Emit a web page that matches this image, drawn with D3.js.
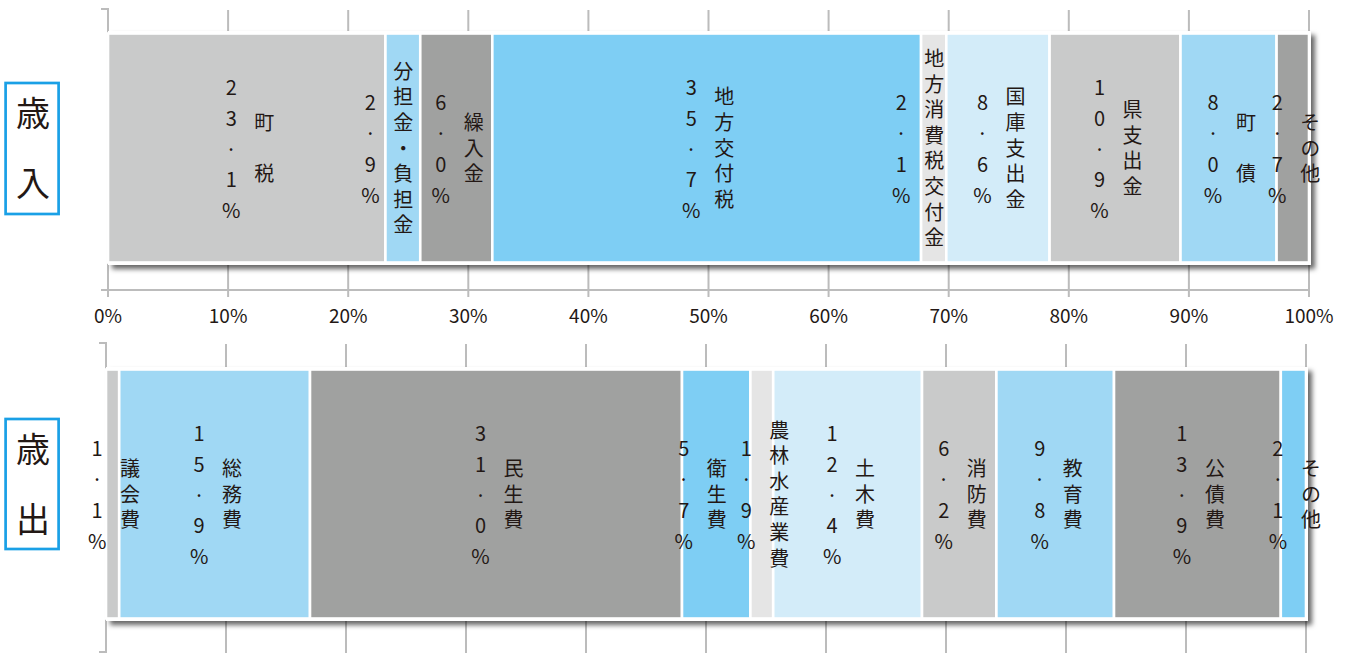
<!DOCTYPE html>
<html><head><meta charset="utf-8">
<script src="https://cdn.jsdelivr.net/npm/d3@7"></script>
<style>
html,body{margin:0;padding:0;background:#fff;}
svg{display:block;font-family:"Noto Sans CJK JP","Noto Sans",sans-serif;}
text.vt{writing-mode:vertical-rl;text-orientation:upright;}
</style></head>
<body>
<svg id="chart" width="1350" height="653"></svg>
<script>
// ---- data ----
const incomeCategories = ["町　税","分担金・負担金","繰入金","地方交付税","地方消費税交付金","国庫支出金","県支出金","町　債","その他"];
const incomeValues = [23.1, 2.9, 6.0, 35.7, 2.1, 8.6, 10.9, 8.0, 2.7];
const expenseCategories = ["議会費","総務費","民生費","衛生費","農林水産業費","土木費","消防費","教育費","公債費","その他"];
const expenseValues = [1.1, 15.9, 31.0, 5.7, 1.9, 12.4, 6.2, 9.8, 13.9, 2.1];
const tickValues = [0,10,20,30,40,50,60,70,80,90,100];
const tickLabels = ["0%","10%","20%","30%","40%","50%","60%","70%","80%","90%","100%"];

// ---- style ----
const palette = ["#c9caca","#a0d8f4","#a0a1a0","#7ecef4","#e5e5e5","#d3ecf9"];
const textColor = "#231815";
const gridColor = "#bcbcbc";
const nameCentered = new Set(["分担金・負担金","地方消費税交付金","衛生費"]);

const svg = d3.select("#chart");
const defs = svg.append("defs");
const f = defs.append("filter").attr("id","shadow").attr("x","-5%").attr("y","-20%").attr("width","110%").attr("height","150%");
f.append("feDropShadow").attr("dx",4).attr("dy",4).attr("stdDeviation",2.8)
  .attr("flood-color","#000").attr("flood-opacity",0.6);

const charts = [
  {title:"歳入", cats:incomeCategories, vals:incomeValues, x0:108, x1:1309,
   bandTop:9, bandBottom:290, barTop:31, barBottom:265, axis:true, boxTop:83, boxBottom:214},
  {title:"歳出", cats:expenseCategories, vals:expenseValues, x0:106, x1:1306,
   bandTop:343, bandBottom:652, barTop:367, barBottom:621, axis:false, boxTop:419, boxBottom:549}
];

// vertical (upright) text: one text element per label
function verticalText(g, str, cx, cy, spacing, size){
  const ls = spacing - size;
  return g.append("text").attr("class","vt")
    .attr("x",cx).attr("y",cy + ls/2)
    .attr("text-anchor","middle")
    .attr("font-size",size).attr("fill",textColor)
    .style("letter-spacing", ls+"px")
    .text(str);
}

charts.forEach(ch=>{
  const x = d3.scaleLinear().domain([0,100]).range([ch.x0, ch.x1]);
  const g = svg.append("g");
  const ends = Array.from(d3.cumsum(ch.vals));
  const segs = ch.vals.map((v,i)=>({cat:ch.cats[i], v, s: ends[i]-v, e: ends[i], i}));

  // gridlines
  const gridBottom = ch.axis ? ch.bandBottom + 7 : 653;
  g.selectAll("line.grid").data(tickValues.slice(1)).join("line")
    .attr("x1",d=>x(d)).attr("x2",d=>x(d))
    .attr("y1",ch.bandTop+1).attr("y2",gridBottom)
    .attr("stroke",gridColor).attr("stroke-width",2);

  // category axis (vertical) with bracket ticks
  g.append("line").attr("x1",ch.x0).attr("x2",ch.x0)
    .attr("y1",ch.bandTop).attr("y2", ch.axis ? ch.bandBottom+7 : ch.bandBottom)
    .attr("stroke",gridColor).attr("stroke-width",2);
  g.append("line").attr("x1",ch.x0-7).attr("x2",ch.x0+1)
    .attr("y1",ch.bandTop).attr("y2",ch.bandTop)
    .attr("stroke",gridColor).attr("stroke-width",2);
  if(ch.axis){
    g.append("line").attr("x1",ch.x0-7).attr("x2",ch.x1)
      .attr("y1",ch.bandBottom).attr("y2",ch.bandBottom)
      .attr("stroke",gridColor).attr("stroke-width",2);
    g.selectAll("text.tick").data(tickValues).join("text")
      .attr("x",d=>x(d)).attr("y",ch.bandBottom+33)
      .attr("text-anchor","middle").attr("font-size",19).attr("fill",textColor)
      .text((d,i)=>tickLabels[i]);
  } else {
    g.append("line").attr("x1",ch.x0-7).attr("x2",ch.x0+1)
      .attr("y1",ch.bandBottom).attr("y2",ch.bandBottom)
      .attr("stroke",gridColor).attr("stroke-width",2);
  }

  // bar frame with shadow
  g.append("rect").attr("x",x(0)).attr("y",ch.barTop)
    .attr("width",x(100)-x(0)+2).attr("height",ch.barBottom-ch.barTop)
    .attr("fill","#fff").attr("filter","url(#shadow)");

  // segments
  g.selectAll("rect.seg").data(segs).join("rect")
    .attr("x",d=>x(d.s)).attr("width",d=>x(d.e)-x(d.s))
    .attr("y",ch.barTop+2.5).attr("height",ch.barBottom-ch.barTop-5)
    .attr("fill",d=>palette[d.i % palette.length])
    .attr("stroke","#fff").attr("stroke-width",2.6);

  // labels
  const cy = (ch.barTop+ch.barBottom)/2;
  segs.forEach(d=>{
    const c = (x(d.s)+x(d.e))/2;
    let vx, nx;
    if(nameCentered.has(d.cat)){ nx = c+0.5; vx = c-32.5; }
    else { vx = c-15.5; nx = c+17.5; }
    verticalText(g, d.v.toFixed(1).replace(".","·")+"%", vx, cy+1, 30.8, 20);
    verticalText(g, d.cat, nx, cy, 25.6, 20);
  });

  // title box
  const bc = (ch.boxTop+ch.boxBottom)/2;
  g.append("rect").attr("x",5.6).attr("y",ch.boxTop).attr("width",53).attr("height",ch.boxBottom-ch.boxTop)
    .attr("fill","none").attr("stroke","#1aa0e6").attr("stroke-width",2.7);
  verticalText(g, ch.title, 33, bc, 70, 34);
});
</script>
</body></html>
